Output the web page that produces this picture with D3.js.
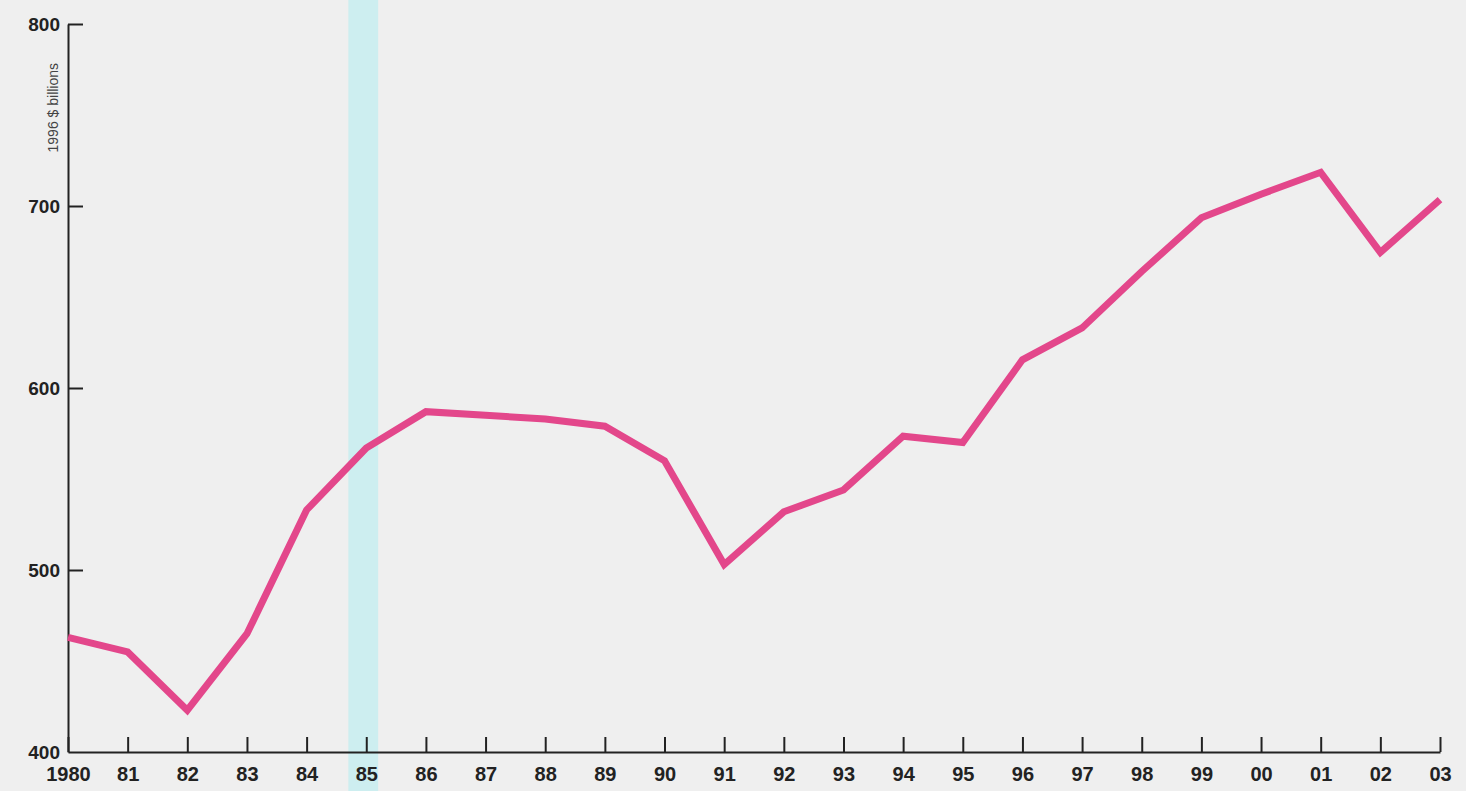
<!DOCTYPE html>
<html>
<head>
<meta charset="utf-8">
<script src="https://cdn.jsdelivr.net/npm/d3@7/dist/d3.min.js"></script>
<style>
  html, body { margin: 0; padding: 0; background: #efefef; }
  svg { display: block; }
  text { font-family: "Liberation Sans", Arial, Helvetica, sans-serif; }
</style>
</head>
<body>
<svg id="chart" width="1466" height="791"></svg>
<script>
const years = [1980,1981,1982,1983,1984,1985,1986,1987,1988,1989,1990,1991,1992,1993,1994,1995,1996,1997,1998,1999,2000,2001,2002,2003];
const xTickLabels = ["1980","81","82","83","84","85","86","87","88","89","90","91","92","93","94","95","96","97","98","99","00","01","02","03"];
const values = [463,455,423,465,533,567,587,585,583,579,560,503,532,544,573.5,570,615.5,633,664,693.5,706.5,718.5,674.5,703.5];
const yTicks = [400,500,600,700,800];
const yAxisTitle = "1996 $ billions";
const bandRange = [1984.7, 1985.2];

const W = 1466, H = 791;
const margin = {left: 68, right: 26, top: 24, bottom: 39};
const svg = d3.select("#chart");

svg.append("rect").attr("width", W).attr("height", H).attr("fill", "#efefef");

const x = d3.scaleLinear().domain([1980, 2003]).range([margin.left, W - margin.right]);
const y = d3.scaleLinear().domain([400, 800]).range([H - margin.bottom, margin.top]);

// highlight band
svg.append("rect")
  .attr("x", x(bandRange[0]))
  .attr("width", x(bandRange[1]) - x(bandRange[0]))
  .attr("y", 0).attr("height", H)
  .attr("fill", "#cdeef0");

// x axis
const xAxis = d3.axisBottom(x)
  .tickValues(years)
  .tickFormat((d, i) => xTickLabels[i])
  .tickSizeInner(-15).tickSizeOuter(0).tickPadding(15);
const gx = svg.append("g").attr("transform", `translate(0,${y(400)})`).call(xAxis);
gx.select(".domain").attr("stroke", "#222").attr("stroke-width", 2);
gx.selectAll(".tick line").attr("stroke", "#222").attr("stroke-width", 2);
gx.selectAll(".tick text")
  .attr("fill", "#222").attr("font-size", 20).attr("font-weight", "bold")
  .attr("font-family", '"Liberation Sans", Arial, sans-serif');

// y axis
const yAxis = d3.axisLeft(y)
  .tickValues(yTicks)
  .tickSizeInner(-15).tickSizeOuter(0).tickPadding(8);
const gy = svg.append("g").attr("transform", `translate(${x(1980)},0)`).call(yAxis);
gy.select(".domain").attr("stroke", "#222").attr("stroke-width", 2);
gy.selectAll(".tick line").attr("stroke", "#222").attr("stroke-width", 2)
  .attr("opacity", d => d === 400 ? 0 : 1);
gy.selectAll(".tick text")
  .attr("fill", "#222").attr("font-size", 19).attr("font-weight", "bold")
  .attr("font-family", '"Liberation Sans", Arial, sans-serif');

// y axis title
svg.append("text")
  .attr("transform", `translate(58,${y(754)}) rotate(-90)`)
  .attr("text-anchor", "middle")
  .attr("font-size", 14)
  .attr("fill", "#444")
  .text(yAxisTitle);

// line
const line = d3.line().x((d, i) => x(years[i])).y(d => y(d));
svg.append("path")
  .datum(values)
  .attr("d", line)
  .attr("fill", "none")
  .attr("stroke", "#e3478b")
  .attr("stroke-width", 7)
  .attr("stroke-linejoin", "miter");
</script>
</body>
</html>
